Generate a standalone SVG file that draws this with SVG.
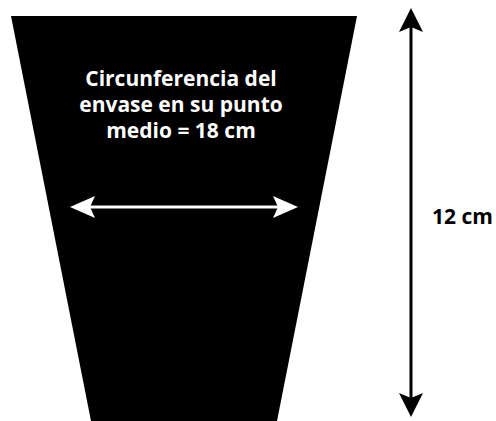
<svg xmlns="http://www.w3.org/2000/svg" width="496" height="421" viewBox="0 0 496 421">
<style>
.lbl{font-family:"Open Sans","Liberation Sans",sans-serif;font-weight:bold;font-size:21px}
.w{fill:#fff}
.k{fill:#000}
</style>
<defs>
<marker id="hb" viewBox="0 0 24 24" refX="5" refY="12" markerWidth="24" markerHeight="24" markerUnits="userSpaceOnUse" orient="auto-start-reverse">
<path d="M0,0 L24,12 L0,24 L5,12 Z" fill="#000"/>
</marker>
<marker id="hw" viewBox="0 0 25 22" refX="5" refY="11" markerWidth="25" markerHeight="22" markerUnits="userSpaceOnUse" orient="auto-start-reverse">
<path d="M0,0 L25,11 L0,22 L5,11 Z" fill="#fff"/>
</marker>
</defs>
<g id="envase">
<polygon points="11,16 357,16 277,421 91,421" fill="#000"/>
<text class="lbl w" text-anchor="middle" x="181" y="86">Circunferencia del</text>
<text class="lbl w" text-anchor="middle" x="181" y="112">envase en su punto</text>
<text class="lbl w" text-anchor="middle" x="181" y="138">medio = 18 cm</text>
</g>
<g id="altura-label">
<text class="lbl k" x="432" y="224">12 cm</text>
</g>
<g id="connectors">
<line x1="411" y1="27" x2="411" y2="398" stroke="#000" stroke-width="3" marker-start="url(#hb)" marker-end="url(#hb)"/>
<line x1="90" y1="207" x2="278" y2="207" stroke="#fff" stroke-width="3" marker-start="url(#hw)" marker-end="url(#hw)"/>
</g>
</svg>
